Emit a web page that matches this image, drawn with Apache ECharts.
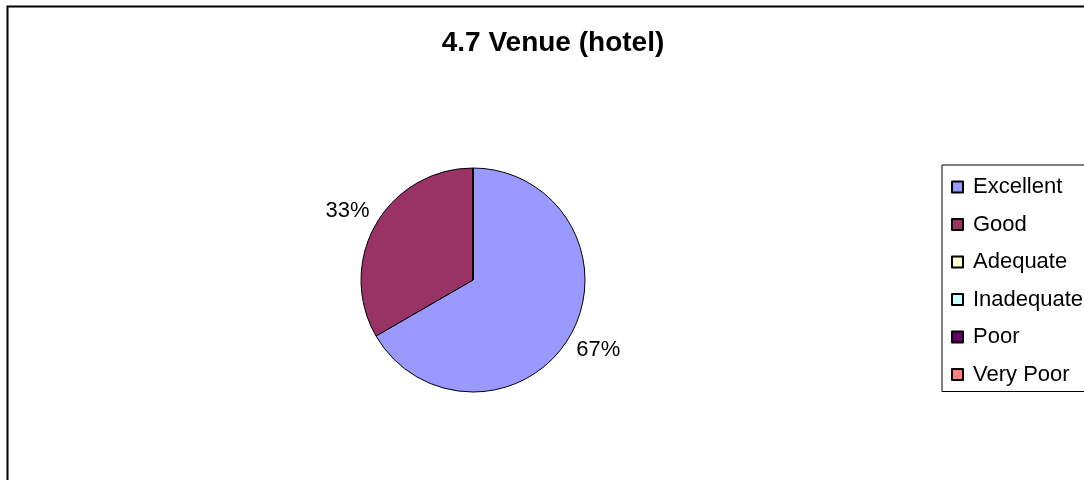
<!DOCTYPE html>
<html>
<head>
<meta charset="utf-8">
<script src="https://cdn.jsdelivr.net/npm/echarts@6/dist/echarts.min.js"></script>
<style>
  html, body { margin: 0; padding: 0; background: #fff; }
  #chart { width: 1084px; height: 480px; }
</style>
</head>
<body>
<div id="chart"></div>
<script>
// Survey item 4.7: rating of the hotel venue (number of responses)
const chartTitle = '4.7 Venue (hotel)';
const categories = ['Excellent', 'Good', 'Adequate', 'Inadequate', 'Poor', 'Very Poor'];
const responses = [2, 1, 0, 0, 0, 0];
const sliceColors = ['#9999FF', '#993366', '#FFFFCC', '#CCFFFF', '#660066', '#FF8080'];

const FONT = 'Liberation Sans, Arial, sans-serif';

const pieData = categories.map((name, i) => ({
  name: name,
  value: responses[i],
  itemStyle: { color: sliceColors[i] },
  label: { show: responses[i] > 0 }
}));

const chart = echarts.init(document.getElementById('chart'), null, { renderer: 'canvas' });

chart.setOption({
  backgroundColor: '#ffffff',
  animation: false,
  title: {
    text: chartTitle,
    left: 548,
    top: 24,
    textAlign: 'center',
    textStyle: { fontFamily: FONT, fontSize: 28, fontWeight: 'bold', color: '#000' }
  },
  graphic: [{
    type: 'rect',
    shape: { x: 7.5, y: 6.5, width: 1200, height: 600 },
    style: { fill: 'none', stroke: '#000', lineWidth: 2 },
    z: -1,
    silent: true
  }],
  legend: {
    orient: 'vertical',
    left: 942,
    top: 165,
    itemWidth: 11,
    itemHeight: 11,
    itemGap: 15.5,
    padding: [11, 200, 6, 9],
    borderColor: '#000',
    borderWidth: 1,
    icon: 'rect',
    selectedMode: false,
    textStyle: {
      fontFamily: FONT, fontSize: 22, color: '#000',
      lineHeight: 22, padding: [0, 0, 0, 5]
    },
    data: categories
  },
  series: [{
    type: 'pie',
    center: [473, 280],
    radius: 112,
    startAngle: 90,
    clockwise: true,
    percentPrecision: 0,
    avoidLabelOverlap: false,
    itemStyle: { borderColor: '#000', borderWidth: 1 },
    emphasis: { disabled: true },
    label: {
      position: 'outside',
      formatter: '{d}%',
      fontFamily: FONT,
      fontSize: 22,
      color: '#000',
      distanceToLabelLine: 5
    },
    labelLine: { show: false, length: 27, length2: 0 },
    labelLayout: function () { return { align: 'center' }; },
    data: pieData
  }]
});
</script>
</body>
</html>
